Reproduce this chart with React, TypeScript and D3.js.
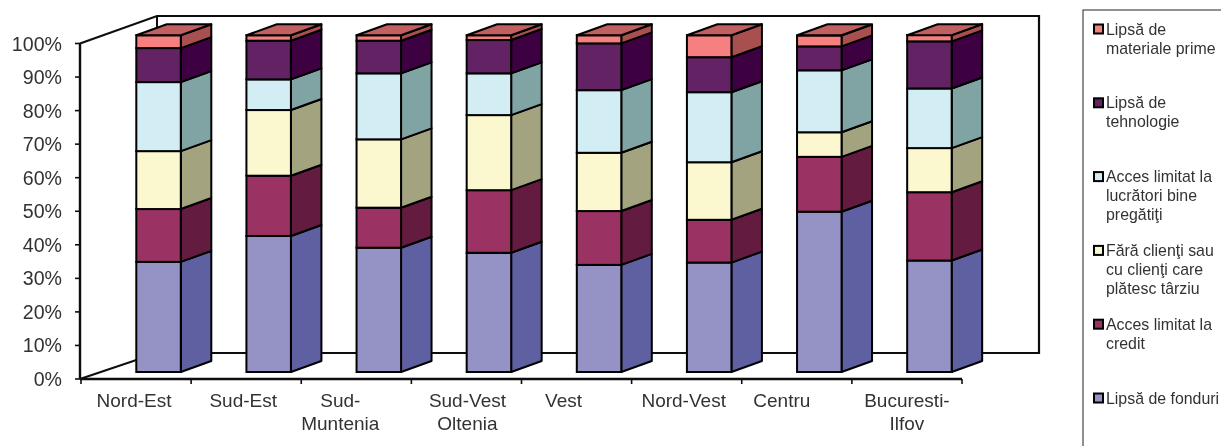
import React from "react";
import * as d3 from "d3";

const categories = ["Nord-Est", "Sud-Est", "Sud-Muntenia", "Sud-Vest Oltenia", "Vest", "Nord-Vest", "Centru", "Bucuresti-Ilfov"];
const categoryLines = [["Nord-Est"], ["Sud-Est"], ["Sud-", "Muntenia"], ["Sud-Vest", "Oltenia"], ["Vest"], ["Nord-Vest"], ["Centru"], ["Bucuresti-", "Ilfov"]];
const seriesKeys = ["fonduri", "credit", "clienti", "lucratori", "tehnologie", "materiale"];

const lipsaFonduri = [32.7, 40.4, 36.9, 35.4, 31.8, 32.5, 47.6, 33.1];
const accesCredit = [15.7, 17.9, 11.9, 18.6, 16.0, 12.7, 16.3, 20.3];
const faraClienti = [17.2, 19.5, 20.3, 22.3, 17.3, 17.1, 7.3, 13.1];
const accesLucratori = [20.5, 9.1, 19.6, 12.4, 18.6, 20.8, 18.4, 17.7];
const lipsaTehnologie = [10.1, 11.5, 9.7, 9.9, 13.9, 10.4, 7.1, 14.0];
const lipsaMateriale = [3.8, 1.6, 1.6, 1.4, 2.4, 6.5, 3.2, 1.9];

const yTicks = [0, 10, 20, 30, 40, 50, 60, 70, 80, 90, 100];
const legendLabels = [
  ["Lipsă de", "materiale prime"],
  ["Lipsă de", "tehnologie"],
  ["Acces limitat la", "lucrători bine", "pregătiţi"],
  ["Fără clienţi sau", "cu clienţi care", "plătesc târziu"],
  ["Acces limitat la", "credit"],
  ["Lipsă de fonduri"],
];
const legendColorIndex = [5, 4, 3, 2, 1, 0];

const frontColors = ["#9592C6", "#9A3064", "#FBF8CF", "#D2EDF3", "#632163", "#F68080"];
const sideColors = ["#5F60A2", "#641A3F", "#A3A47F", "#80A3A3", "#3D0540", "#A85050"];
const topColor = "#C06060";
const labelNudge = [-2, -3, -16, 1, -13, -3, -15, 0];

const FONT = "'Liberation Sans', Arial, sans-serif";
const INK = "#333";
const LINE = "#111";

const rows = categories.map((_, i) => ({
  fonduri: lipsaFonduri[i],
  credit: accesCredit[i],
  clienti: faraClienti[i],
  lucratori: accesLucratori[i],
  tehnologie: lipsaTehnologie[i],
  materiale: lipsaMateriale[i],
}));
const stacked = d3.stack<any>().keys(seriesKeys)(rows);

const axisY = d3.scaleLinear().domain([0, 100]).range([379, 43.5]);
const barY = d3.scaleLinear().domain([0, 100]).range([372, 35.3]);
const axisX = d3.scaleBand<number>().domain(d3.range(categories.length)).range([81, 962]);
const barWidth = 44.5;
const depthX = 30.5;
const depthY = -11;
const barLeft = (i: number) => (axisX(i) as number) + 55.3;
const poly = d3.line<[number, number]>();

export default function App() {
  const x0 = axisX.range()[0];
  const x1 = axisX.range()[1];
  return (
    <svg
      width={1221}
      height={446}
      viewBox="0 0 1221 446"
      style={{ position: "absolute", left: 0, top: 0, background: "#fff" }}
      fontFamily={FONT}
    >
      <defs>
        <filter id="soft" x="-2%" y="-2%" width="104%" height="104%">
          <feGaussianBlur stdDeviation="0.35" />
        </filter>
      </defs>
      <g filter="url(#soft)">
        {/* back wall and floor */}
        <path
          d={poly([[80, axisY(100)], [157, 16], [1039, 16], [1039, 353], [157, 353], [80, axisY(0)]]) as string}
          fill="none"
          stroke={LINE}
          strokeWidth={2.2}
        />
        <line x1={157} x2={157} y1={16} y2={353} stroke={LINE} strokeWidth={2} />

        {/* y axis */}
        <line x1={80} x2={80} y1={axisY(0)} y2={axisY(100)} stroke={LINE} strokeWidth={2.4} />
        {yTicks.map((t) => (
          <g key={t}>
            <line x1={75} x2={80} y1={axisY(t)} y2={axisY(t)} stroke={LINE} strokeWidth={1.6} />
            <text x={62} y={axisY(t) + 7} textAnchor="end" fontSize={19.6} fill={INK}>
              {t}%
            </text>
          </g>
        ))}

        {/* bars */}
        {categories.map((c, i) => {
          const l = barLeft(i);
          const r = l + barWidth;
          return (
            <g key={c}>
              {stacked.map((s, k) => {
                const yb = barY(s[i][0]);
                const yt = barY(s[i][1]);
                return (
                  <g key={k}>
                    <path
                      d={(poly([[r, yb], [r + depthX, yb + depthY], [r + depthX, yt + depthY], [r, yt]]) as string) + "Z"}
                      fill={sideColors[k]}
                      stroke="#000"
                      strokeWidth={2}
                      strokeLinejoin="round"
                    />
                    <rect x={l} y={yt} width={barWidth} height={yb - yt} fill={frontColors[k]} stroke="#000" strokeWidth={2} />
                  </g>
                );
              })}
              <path
                d={(poly([[l, barY(100)], [l + depthX, barY(100) + depthY], [r + depthX, barY(100) + depthY], [r, barY(100)]]) as string) + "Z"}
                fill={topColor}
                stroke="#000"
                strokeWidth={2}
                strokeLinejoin="round"
              />
            </g>
          );
        })}

        {/* x axis */}
        <line x1={x0 - 1} x2={x1} y1={axisY(0)} y2={axisY(0)} stroke={LINE} strokeWidth={2.4} />
        {d3.range(categories.length + 1).map((i) => {
          const x = x0 + i * axisX.step();
          return <line key={i} x1={x} x2={x} y1={axisY(0)} y2={axisY(0) + 5} stroke={LINE} strokeWidth={1.6} />;
        })}
        {categoryLines.map((lines, i) => {
          const cx = (axisX(i) as number) + axisX.step() / 2 + labelNudge[i];
          return (
            <text key={i} y={407} textAnchor="middle" fontSize={19} fill={INK}>
              {lines.map((t, j) => (
                <tspan key={j} x={cx} dy={j === 0 ? 0 : 23}>
                  {t}
                </tspan>
              ))}
            </text>
          );
        })}

        {/* legend */}
        <rect x={1083} y={10} width={220} height={520} fill="#fff" stroke="#222" strokeWidth={1} />
        {legendLabels.map((lines, i) => {
          const cy = 29 + i * 73.8;
          return (
            <g key={i}>
              <rect x={1094} y={cy - 4.5} width={9} height={9} fill={frontColors[legendColorIndex[i]]} stroke="#000" strokeWidth={2} />
              <text fontSize={15.9} fill={INK} y={cy + 5.5}>
                {lines.map((t, j) => (
                  <tspan key={j} x={1106} dy={j === 0 ? 0 : 19}>
                    {t}
                  </tspan>
                ))}
              </text>
            </g>
          );
        })}
      </g>
    </svg>
  );
}
